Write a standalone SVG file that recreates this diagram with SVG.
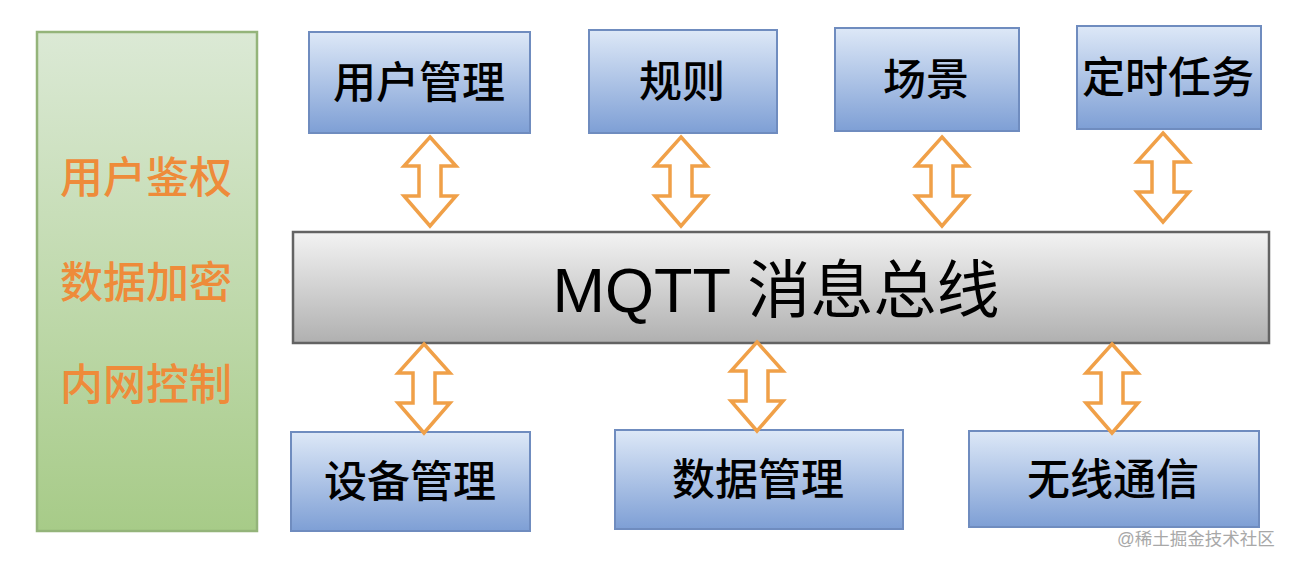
<svg xmlns="http://www.w3.org/2000/svg" width="1296" height="566" viewBox="0 0 1296 566">
<style>
.box{fill:url(#blue);stroke:#6f8cbf;stroke-width:2}
.bus{fill:url(#grey);stroke:#636363;stroke-width:2.5}
.side{fill:url(#green);stroke:#94b47a;stroke-width:2.5}
.lbl{font-family:"Liberation Sans","Noto Sans CJK SC",sans-serif;font-size:43px;font-weight:500;fill:#000;text-anchor:middle;dominant-baseline:central}
.sec{font-family:"Liberation Sans","Noto Sans CJK SC",sans-serif;font-size:43px;font-weight:500;fill:#ee8b3a;text-anchor:middle;dominant-baseline:central}
.big{font-family:"Liberation Sans","Noto Sans CJK SC",sans-serif;font-size:63px;font-weight:400;fill:#000;text-anchor:middle;dominant-baseline:central}
.arr{fill:#fff;stroke:#f0a048;stroke-width:3.5;stroke-linejoin:miter}
.wm{font-family:"Liberation Sans","Noto Sans CJK SC",sans-serif;font-size:17.5px;fill:#a8a8a8;text-anchor:start;dominant-baseline:central}
</style>
<defs>
<linearGradient id="blue" x1="0" y1="0" x2="0" y2="1"><stop offset="0" stop-color="#dde8f7"/><stop offset="1" stop-color="#7e9fd5"/></linearGradient>
<linearGradient id="grey" x1="0" y1="0" x2="0" y2="1"><stop offset="0" stop-color="#f3f3f3"/><stop offset="1" stop-color="#b0b0b0"/></linearGradient>
<linearGradient id="green" x1="0" y1="0" x2="0" y2="1"><stop offset="0" stop-color="#dbe9d5"/><stop offset="1" stop-color="#a7cb88"/></linearGradient>
<path id="dbl" d="M0,0 L26,29 L11,29 L11,59 L26,59 L0,89 L-26,59 L-11,59 L-11,29 L-26,29 Z"/>
</defs>
<rect width="1296" height="566" fill="#fff"/>
<g id="security">
<rect class="side" x="37" y="32" width="220" height="499"/>
<text class="sec" x="146" y="178">用户鉴权</text>
<text class="sec" x="146" y="283">数据加密</text>
<text class="sec" x="146" y="385">内网控制</text>
</g>
<g id="user-mgmt"><rect class="box" x="309" y="32" width="221" height="101"/><text class="lbl" x="419" y="83">用户管理</text></g>
<g id="rules"><rect class="box" x="589" y="30" width="188" height="103"/><text class="lbl" x="682" y="82">规则</text></g>
<g id="scene"><rect class="box" x="835" y="28" width="184" height="103"/><text class="lbl" x="926" y="80">场景</text></g>
<g id="timer"><rect class="box" x="1077" y="26" width="184" height="103"/><text class="lbl" x="1168" y="78">定时任务</text></g>
<g id="bus"><rect class="bus" x="293" y="232" width="976" height="111"/><text class="big" x="776" y="290">MQTT 消息总线</text></g>
<g id="device-mgmt"><rect class="box" x="291" y="432" width="239" height="99"/><text class="lbl" x="410" y="482">设备管理</text></g>
<g id="data-mgmt"><rect class="box" x="615" y="430" width="288" height="99"/><text class="lbl" x="758" y="480">数据管理</text></g>
<g id="wireless"><rect class="box" x="969" y="431" width="290" height="96"/><text class="lbl" x="1113" y="480">无线通信</text></g>
<g id="connectors">
<use href="#dbl" class="arr" transform="translate(430,137)"/>
<use href="#dbl" class="arr" transform="translate(681,137)"/>
<use href="#dbl" class="arr" transform="translate(942,137)"/>
<use href="#dbl" class="arr" transform="translate(1163,133)"/>
<use href="#dbl" class="arr" transform="translate(424,344)"/>
<use href="#dbl" class="arr" transform="translate(757,342)"/>
<use href="#dbl" class="arr" transform="translate(1112,344)"/>
</g>
<text class="wm" x="1117" y="539">@稀土掘金技术社区</text>
</svg>
